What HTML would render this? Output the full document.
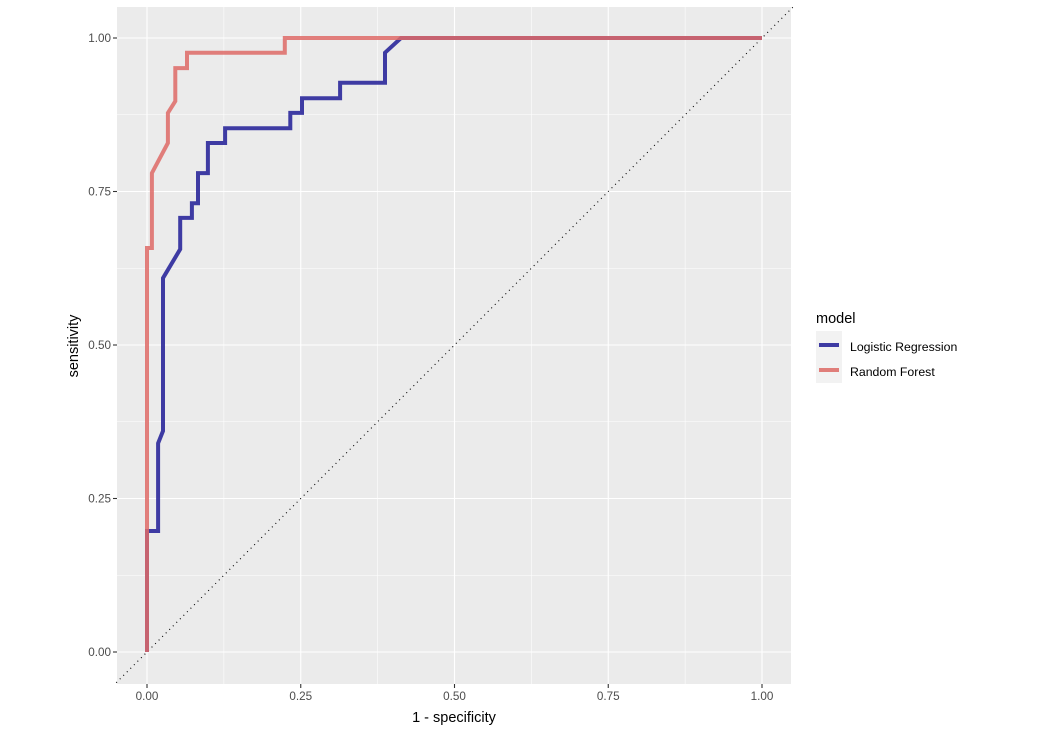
<!DOCTYPE html>
<html><head><meta charset="utf-8"><style>
body{margin:0;background:#fff;font-family:"Liberation Sans",sans-serif;}
svg{display:block}
</style></head><body>
<svg id="chart" width="1037" height="733" xmlns="http://www.w3.org/2000/svg">
<rect x="117" y="7" width="674" height="677" fill="#EBEBEB"/>
<g id="grid"></g>
<g id="diag"></g>
<g id="series"></g>
<g id="axes"></g>
<text x="454" y="722" font-size="14.5" text-anchor="middle" fill="#000">1 - specificity</text>
<text transform="translate(78,346) rotate(-90)" font-size="14.5" text-anchor="middle" fill="#000">sensitivity</text>
<g>
<text x="816" y="323" font-size="14.5" fill="#000">model</text>
<rect x="816" y="331" width="26" height="52" fill="#F2F2F2"/>
<line x1="819" y1="345" x2="839" y2="345" stroke="#2B289B" stroke-width="4" opacity="0.9"/>
<line x1="819" y1="370" x2="839" y2="370" stroke="#DE6A66" stroke-width="4" opacity="0.85"/>
<text x="850" y="351" font-size="12.3" fill="#000">Logistic Regression</text>
<text x="850" y="376" font-size="12.3" fill="#000">Random Forest</text>
</g>
</svg>
<script>
const ticks=[0,0.25,0.5,0.75,1];
const tickLabels=["0.00","0.25","0.50","0.75","1.00"];
const lrFpr=[0,0,0.018,0.018,0.026,0.026,0.054,0.054,0.073,0.073,0.083,0.083,0.099,0.099,0.127,0.127,0.233,0.233,0.252,0.252,0.314,0.314,0.387,0.387,0.413,1];
const lrTpr=[0,0.197,0.197,0.340,0.360,0.609,0.656,0.707,0.707,0.731,0.731,0.780,0.780,0.829,0.829,0.853,0.853,0.878,0.878,0.902,0.902,0.927,0.927,0.976,1,1];
const rfFpr=[0,0,0.008,0.008,0.034,0.034,0.046,0.046,0.065,0.065,0.224,0.224,1];
const rfTpr=[0,0.658,0.658,0.780,0.829,0.878,0.897,0.951,0.951,0.976,0.976,1,1];
const NS="http://www.w3.org/2000/svg";
const X=v=>147+v*615, Y=v=>652-v*614;
function mk(tag,attrs,parent){const e=document.createElementNS(NS,tag);for(const k in attrs)e.setAttribute(k,attrs[k]);parent.appendChild(e);return e;}
const grid=document.getElementById('grid'),axes=document.getElementById('axes');
for(let i=0;i<ticks.length-1;i++){
 const m=(ticks[i]+ticks[i+1])/2;
 let l=mk('line',{x1:X(m),x2:X(m),y1:7,y2:684,stroke:'#fff','stroke-width':0.55},grid);
 
 
 l=mk('line',{x1:117,x2:791,y1:Y(m),y2:Y(m),stroke:'#fff','stroke-width':0.55},grid);
 
 
}
ticks.forEach((t,i)=>{
 let l=mk('line',{x1:X(t),x2:X(t),y1:7,y2:684,stroke:'#fff','stroke-width':1.1},grid);
 
 
 l=mk('line',{x1:117,x2:791,y1:Y(t),y2:Y(t),stroke:'#fff','stroke-width':1.1},grid);
 
 
 l=mk('line',{x1:X(t),x2:X(t),y1:684,y2:688,stroke:'#333','stroke-width':1.1},axes);
 
 
 l=mk('line',{x1:113,x2:117,y1:Y(t),y2:Y(t),stroke:'#333','stroke-width':1.1},axes);
 
 
 let tx=mk('text',{x:X(t),y:700,'font-size':11.7,'text-anchor':'middle',fill:'#4D4D4D'},axes);
 tx.textContent=tickLabels[i];
 
 
 tx=mk('text',{x:111,y:Y(t)+4,'font-size':11.7,'text-anchor':'end',fill:'#4D4D4D'},axes);
 tx.textContent=tickLabels[i];
 
 
});
const d=mk('line',{x1:X(-0.05),y1:Y(-0.05),x2:X(1.05),y2:Y(1.05),stroke:'#000','stroke-width':1.1,'stroke-dasharray':'1 4'},document.getElementById('diag'));


const ser=document.getElementById('series');
function path(xs,ys,color,op,name){
 const pts=xs.map((x,i)=>X(x).toFixed(1)+','+Y(ys[i]).toFixed(1)).join(' ');
 const p=mk('polyline',{points:pts,fill:'none',stroke:color,'stroke-width':4,opacity:op,'stroke-linejoin':'miter'},ser);
 
 
}
path(lrFpr,lrTpr,'#2B289B',0.9,'logistic-regression-line');
path(rfFpr,rfTpr,'#DE6A66',0.85,'random-forest-line');
</script>
</body></html>
